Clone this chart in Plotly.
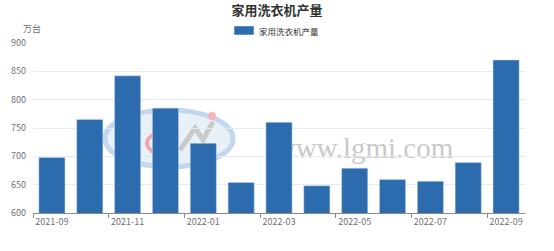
import plotly.graph_objects as go

categories = ["2021-09", "2021-10", "2021-11", "2021-12", "2022-01", "2022-02", "2022-03",
              "2022-04", "2022-05", "2022-06", "2022-07", "2022-08", "2022-09"]
production = [698, 765, 842, 785, 723, 654, 760, 648, 679, 659, 656, 689, 870]
tick_labels = ["600", "650", "700", "750", "800", "850", "900"]

BAR = "#2c6cae"
FONT = "Noto Sans CJK SC"

fig = go.Figure()
fig.add_trace(go.Bar(
    x=categories, y=production, name="家用洗衣机产量",
    marker=dict(color=BAR, line=dict(color="rgba(200,220,240,0.8)", width=0.6)),
    showlegend=False, hoverinfo="x+y",
))

W, H = 554, 251
L, R, T, B = 33, 29, 43, 38
PW, PH = W - L - R, H - T - B


def px(x):
    return (x - L) / PW


def py(y):
    return (H - B - y) / PH


fig.update_layout(
    width=W, height=H,
    margin=dict(l=L, r=R, t=T, b=B),
    paper_bgcolor="white", plot_bgcolor="white",
    bargap=0.31,
    font=dict(family=FONT, size=9, color="#6e7079"),
    title=dict(text="<b>家用洗衣机产量</b>", x=0.5, xanchor="center", y=1 - 10.5 / H, yanchor="middle",
               font=dict(family=FONT, size=13, color="#333333")),
    xaxis=dict(
        type="category", range=[-0.5, len(categories) - 0.5],
        dtick=2, tickson="boundaries", ticks="outside", ticklen=4, tickcolor="#8a8a8a",
        tickangle=0, automargin=False,
        showline=True, linecolor="#8a8a8a", linewidth=1, showgrid=False,
        tickfont=dict(family=FONT, size=9, color="#6e7079"), fixedrange=True,
    ),
    yaxis=dict(
        range=[600, 900], tickvals=[int(v) for v in tick_labels], ticktext=tick_labels,
        showgrid=True, gridcolor="#e6ebf3", gridwidth=1, zeroline=False, showline=False,
        ticks="", ticklabelstandoff=6, automargin=False,
        tickfont=dict(family=FONT, size=9, color="#6e7079"), fixedrange=True,
    ),
    shapes=[
        # watermark logo (background, below bars)
        dict(type="circle", xref="paper", yref="paper", layer="below",
             x0=px(105), x1=px(233), y0=py(167), y1=py(110),
             line=dict(color="#c3d8ec", width=5), fillcolor="rgba(214,228,242,0.55)"),
        dict(type="path", xref="paper", yref="paper", layer="below",
             path="M {a},{b} Q {c},{d} {e},{f}".format(
                 a=px(166), b=py(128), c=px(128), d=py(143), e=px(166), f=py(159)),
             line=dict(color="#f2a7ad", width=4)),
        dict(type="circle", xref="paper", yref="paper", layer="below",
             x0=px(208), x1=px(216), y0=py(120), y1=py(112),
             line=dict(width=0), fillcolor="#f4b4ba"),
        dict(type="path", xref="paper", yref="paper", layer="below",
             path="M {a},{b} L {c},{d} L {e},{f} L {g},{h}".format(
                 a=px(180), b=py(150), c=px(195), d=py(128),
                 e=px(203), f=py(140), g=px(213), h=py(122)),
             line=dict(color="#cacaca", width=5)),
        dict(type="rect", xref="paper", yref="paper", layer="below",
             x0=px(272), x1=px(456), y0=py(162), y1=py(128),
             line=dict(width=0), fillcolor="rgba(0,0,0,0)",
             label=dict(text="www.lgmi.com", textposition="middle center",
                        font=dict(family="Liberation Serif", size=29, color="#c9c9c9"))),
        # legend swatch
        dict(type="path", xref="paper", yref="paper", layer="above",
             path="M {x0},{y0} L {x1},{y0} L {x1},{y1} L {x0},{y1} Z".format(
                 x0=px(235), x1=px(253), y0=py(27), y1=py(34)),
             line=dict(color=BAR, width=1.5), fillcolor=BAR),
    ],
    annotations=[
        dict(text="家用洗衣机产量", xref="paper", yref="paper",
             x=px(257), y=py(30.5),
             xanchor="left", yanchor="middle", showarrow=False,
             font=dict(family=FONT, size=8.5, color="#333333")),
        dict(text="万台", xref="paper", yref="paper",
             x=px(32), y=py(28),
             xanchor="center", yanchor="middle", showarrow=False,
             font=dict(family=FONT, size=9, color="#6e7079")),
    ],
)

fig.write_html("out.html", include_plotlyjs=True, config={"displayModeBar": False})
